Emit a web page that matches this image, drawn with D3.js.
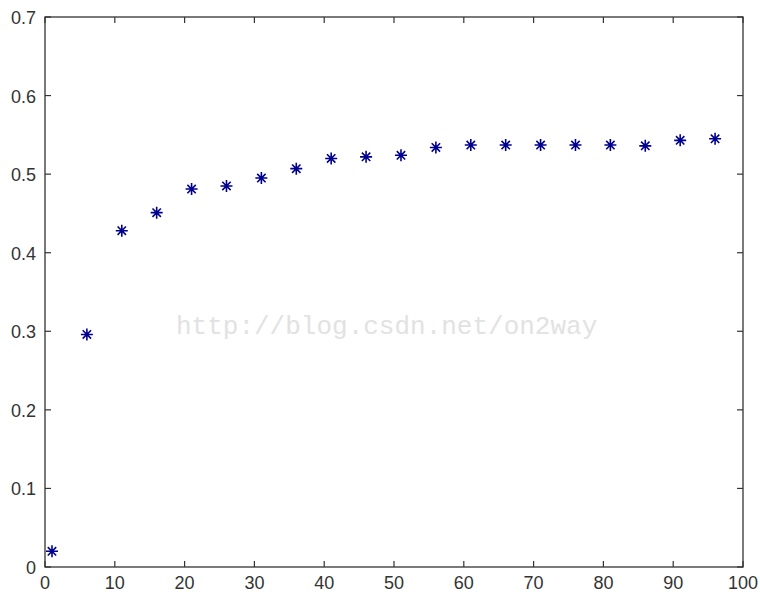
<!DOCTYPE html>
<html>
<head>
<meta charset="utf-8">
<script src="https://cdn.jsdelivr.net/npm/d3@7.9.0/dist/d3.min.js"></script>
<style>
  body { margin: 0; background: #fff; }
  svg text { font-family: "Liberation Sans", Arial, sans-serif; }
</style>
</head>
<body>
<svg id="chart" width="760" height="594"></svg>
<script>
// data
const xValues = [1, 6, 11, 16, 21, 26, 31, 36, 41, 46, 51, 56, 61, 66, 71, 76, 81, 86, 91, 96];
const yValues = [0.020, 0.296, 0.428, 0.451, 0.481, 0.485, 0.495, 0.507, 0.520, 0.522,
                 0.524, 0.534, 0.537, 0.537, 0.537, 0.537, 0.537, 0.536, 0.543, 0.545];
const xTicks = [0, 10, 20, 30, 40, 50, 60, 70, 80, 90, 100];
const yTicks = [0, 0.1, 0.2, 0.3, 0.4, 0.5, 0.6, 0.7];

const W = 760, H = 594;
const margin = { left: 45, right: 17, top: 17, bottom: 27 };

const svg = d3.select('#chart');

const x = d3.scaleLinear().domain([0, 100]).range([margin.left, W - margin.right]);
const y = d3.scaleLinear().domain([0, 0.7]).range([H - margin.bottom, margin.top]);

const axisColor = '#333';
const tickLen = 6;

// watermark
svg.append('text')
  .attr('x', 176).attr('y', 334)
  .attr('fill', '#e2e2e2')
  .style('font-family', '"Liberation Mono", "Courier New", monospace')
  .style('font-size', '26px')
  .text('http://blog.csdn.net/on2way');

// ticks, inward on all four sides (matlab style)
const g = svg.append('g').attr('stroke', axisColor).attr('stroke-width', 1.2);
xTicks.forEach(t => {
  g.append('line').attr('x1', x(t)).attr('x2', x(t))
    .attr('y1', y(0)).attr('y2', y(0) - tickLen);
  g.append('line').attr('x1', x(t)).attr('x2', x(t))
    .attr('y1', y(0.7)).attr('y2', y(0.7) + tickLen);
});
yTicks.forEach(t => {
  g.append('line').attr('x1', x(0)).attr('x2', x(0) + tickLen)
    .attr('y1', y(t)).attr('y2', y(t));
  g.append('line').attr('x1', x(100)).attr('x2', x(100) - tickLen)
    .attr('y1', y(t)).attr('y2', y(t));
});

// box
svg.append('rect')
  .attr('x', x(0)).attr('y', y(0.7))
  .attr('width', x(100) - x(0)).attr('height', y(0) - y(0.7))
  .attr('fill', 'none').attr('stroke', axisColor).attr('stroke-width', 1.3);

// tick labels
svg.append('g').selectAll('text').data(xTicks).join('text')
  .attr('x', d => x(d)).attr('y', y(0) + 22)
  .attr('text-anchor', 'middle')
  .attr('fill', '#333')
  .style('font-size', '18px')
  .text(d => d);

svg.append('g').selectAll('text').data(yTicks).join('text')
  .attr('x', x(0) - 9).attr('y', d => y(d) + 7)
  .attr('text-anchor', 'end')
  .attr('fill', '#333')
  .style('font-size', '18px')
  .text(d => d3.format('~g')(d));

// star markers
const r = 6;
const star = `M${-r},0H${r}M0,${-r}V${r}` +
  `M${-r * 0.7},${-r * 0.7}L${r * 0.7},${r * 0.7}M${-r * 0.7},${r * 0.7}L${r * 0.7},${-r * 0.7}`;

svg.append('g').selectAll('path').data(xValues).join('path')
  .attr('transform', (d, i) => `translate(${x(d)},${y(yValues[i])})`)
  .attr('d', star)
  .attr('fill', 'none')
  .attr('stroke', '#00008f')
  .attr('stroke-width', 1.6);
</script>
</body>
</html>
